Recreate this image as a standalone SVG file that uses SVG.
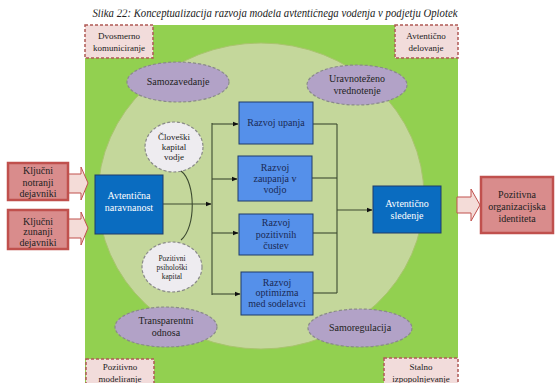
<svg xmlns="http://www.w3.org/2000/svg" width="555" height="383" viewBox="0 0 555 383" font-family="'Liberation Serif', 'DejaVu Serif', serif">
<defs>
<style>
text{font-family:'Liberation Serif','DejaVu Serif',serif;text-anchor:middle;fill:#222}
.corner{fill:#f2dcdb;stroke:#b05a55;stroke-width:1.5;stroke-dasharray:3 2}
.oval{fill:#b2a2c7;stroke:#8a8a8a;stroke-width:1.2;stroke-dasharray:3 2}
.cap{fill:#eeecf0;stroke:#8a8a8a;stroke-width:1.2;stroke-dasharray:3 2}
.lb{fill:#5590ea;stroke:#1f3a6a;stroke-width:1}
.db{fill:#0a6cc0;stroke:#1f3a6a;stroke-width:1}
.pk{fill:#d98c8c;stroke:#c0504d;stroke-width:2.5}
.ar{fill:#f4dcd8;stroke:#c0504d;stroke-width:1}
.ln{fill:none;stroke:#3c4a30;stroke-width:1.1}
.t9{font-size:10px}
.t8{font-size:9px}
.t7{font-size:7.5px}
.tw{fill:#fff;font-size:10px}
.tn{fill:#1a2a55;font-size:10px}
</style>
<marker id="ah" viewBox="0 0 10 10" refX="9" refY="5" markerWidth="6" markerHeight="6" orient="auto" markerUnits="userSpaceOnUse">
<path d="M0,1 L10,5 L0,9 z" fill="#111"/>
</marker>
<clipPath id="capclip"><rect x="0" y="9.5" width="555" height="20"/></clipPath>
</defs>
<rect width="555" height="383" fill="#fff"/>
<text x="275" y="17" clip-path="url(#capclip)" font-style="italic" font-size="12.5" textLength="365" lengthAdjust="spacingAndGlyphs">Slika 22: Konceptualizacija razvoja modela avtentičnega vodenja v podjetju Oplotek</text>

<g id="background">
<rect x="85" y="25" width="373" height="358" fill="#92d050"/>
<ellipse cx="261" cy="196" rx="163" ry="153" fill="#c4d79b" stroke="#a9c46e" stroke-width="1"/>
</g>

<g id="corner-tl"><rect class="corner" x="85" y="25" width="68" height="33"/><text class="t8" x="119" y="39">Dvosmerno</text><text class="t8" x="119" y="51">komuniciranje</text></g>
<g id="corner-tr"><rect class="corner" x="395" y="25" width="63" height="33"/><text class="t8" x="426" y="39">Avtentično</text><text class="t8" x="426" y="51">delovanje</text></g>
<g id="corner-bl"><rect class="corner" x="86" y="359" width="68" height="30"/><text class="t8" x="120" y="370">Pozitivno</text><text class="t8" x="120" y="382">modeliranje</text></g>
<g id="corner-br"><rect class="corner" x="384" y="358" width="74" height="30"/><text class="t8" x="421" y="370">Stalno</text><text class="t8" x="421" y="382">izpopolnjevanje</text></g>

<g id="samozavedanje"><ellipse class="oval" cx="178" cy="82" rx="51" ry="20"/><text class="t9" x="178" y="85">Samozavedanje</text></g>
<g id="uravnotezeno"><ellipse class="oval" cx="357" cy="85" rx="50" ry="20"/><text class="t9" x="357" y="82">Uravnoteženo</text><text class="t9" x="357" y="94">vrednotenje</text></g>
<g id="transparentni"><ellipse class="oval" cx="166" cy="327" rx="51" ry="20"/><text class="t9" x="166" y="324">Transparentni</text><text class="t9" x="166" y="336">odnosa</text></g>
<g id="samoregulacija"><ellipse class="oval" cx="360" cy="328" rx="52" ry="19"/><text class="t9" x="360" y="331">Samoregulacija</text></g>

<g id="clovecki"><ellipse class="cap" cx="174" cy="147" rx="29" ry="25"/><text class="t8" x="174" y="140">Človeški</text><text class="t8" x="174" y="150">kapital</text><text class="t8" x="174" y="160">vodje</text></g>
<g id="pozitivni-kapital"><ellipse class="cap" cx="172" cy="267" rx="30" ry="25"/><text class="t7" x="172" y="261">Pozitivni</text><text class="t7" x="172" y="270">psihološki</text><text class="t7" x="172" y="279">kapital</text></g>

<g id="connectors">
<path class="ln" d="M181,171 C196,182 196,228 181,240"/>
<line class="ln" x1="163" y1="204" x2="211" y2="204" marker-end="url(#ah)"/>
<line class="ln" x1="212" y1="123" x2="212" y2="295"/>
<line class="ln" x1="212" y1="124" x2="238" y2="124" marker-end="url(#ah)"/>
<line class="ln" x1="212" y1="179" x2="237" y2="179" marker-end="url(#ah)"/>
<line class="ln" x1="212" y1="233" x2="238" y2="233" marker-end="url(#ah)"/>
<line class="ln" x1="212" y1="294" x2="240" y2="294" marker-end="url(#ah)"/>
<line class="ln" x1="313" y1="124" x2="337" y2="124"/>
<line class="ln" x1="312" y1="178" x2="337" y2="178"/>
<line class="ln" x1="313" y1="233" x2="337" y2="233"/>
<line class="ln" x1="313" y1="293" x2="337" y2="293"/>
<line class="ln" x1="337" y1="124" x2="337" y2="293"/>
<line class="ln" x1="337" y1="210" x2="372" y2="210" marker-end="url(#ah)"/>
<path class="ar" d="M68,174 L81,174 L81,167 L88,183 L81,200 L81,193 L68,193 z"/>
<path class="ar" d="M68,219 L81,219 L81,212 L88,228 L81,245 L81,238 L68,238 z"/>
<path class="ar" d="M457,197 L471,197 L471,189 L480,205 L471,221 L471,213 L457,213 z"/>
</g>

<g id="naravnanost"><rect class="db" x="95" y="175" width="68" height="59"/><text class="tw" x="129" y="199">Avtentična</text><text class="tw" x="129" y="211">naravnanost</text></g>
<g id="sledenje"><rect class="db" x="373" y="186" width="68" height="47"/><text class="tw" x="407" y="207">Avtentično</text><text class="tw" x="407" y="219">sledenje</text></g>

<g id="upanja"><rect class="lb" x="239" y="102" width="74" height="42"/><text class="tn" x="276" y="126">Razvoj upanja</text></g>
<g id="zaupanja"><rect class="lb" x="238" y="156" width="74" height="45"/><text class="tn" x="275" y="171">Razvoj</text><text class="tn" x="275" y="182">zaupanja v</text><text class="tn" x="275" y="193">vodjo</text></g>
<g id="custev"><rect class="lb" x="239" y="214" width="74" height="41"/><text class="tn" x="276" y="226">Razvoj</text><text class="tn" x="276" y="238">pozitivnih</text><text class="tn" x="276" y="249">čustev</text></g>
<g id="optimizma"><rect class="lb" x="241" y="272" width="72" height="43"/><text class="tn" x="277" y="286">Razvoj</text><text class="tn" x="277" y="296">optimizma</text><text class="tn" x="277" y="307">med sodelavci</text></g>

<g id="notranji"><rect class="pk" x="8" y="163" width="60" height="37"/><text class="t9" x="38" y="174">Ključni</text><text class="t9" x="38" y="186">notranji</text><text class="t9" x="38" y="197">dejavniki</text></g>
<g id="zunanji"><rect class="pk" x="8" y="210" width="60" height="39"/><text class="t9" x="38" y="225">Ključni</text><text class="t9" x="38" y="235">zunanji</text><text class="t9" x="38" y="246">dejavniki</text></g>
<g id="identiteta"><rect class="pk" x="481" y="177" width="72" height="56"/><text class="t9" x="517" y="198">Pozitivna</text><text class="t9" x="517" y="210">organizacijska</text><text class="t9" x="517" y="222">identiteta</text></g>
</svg>
